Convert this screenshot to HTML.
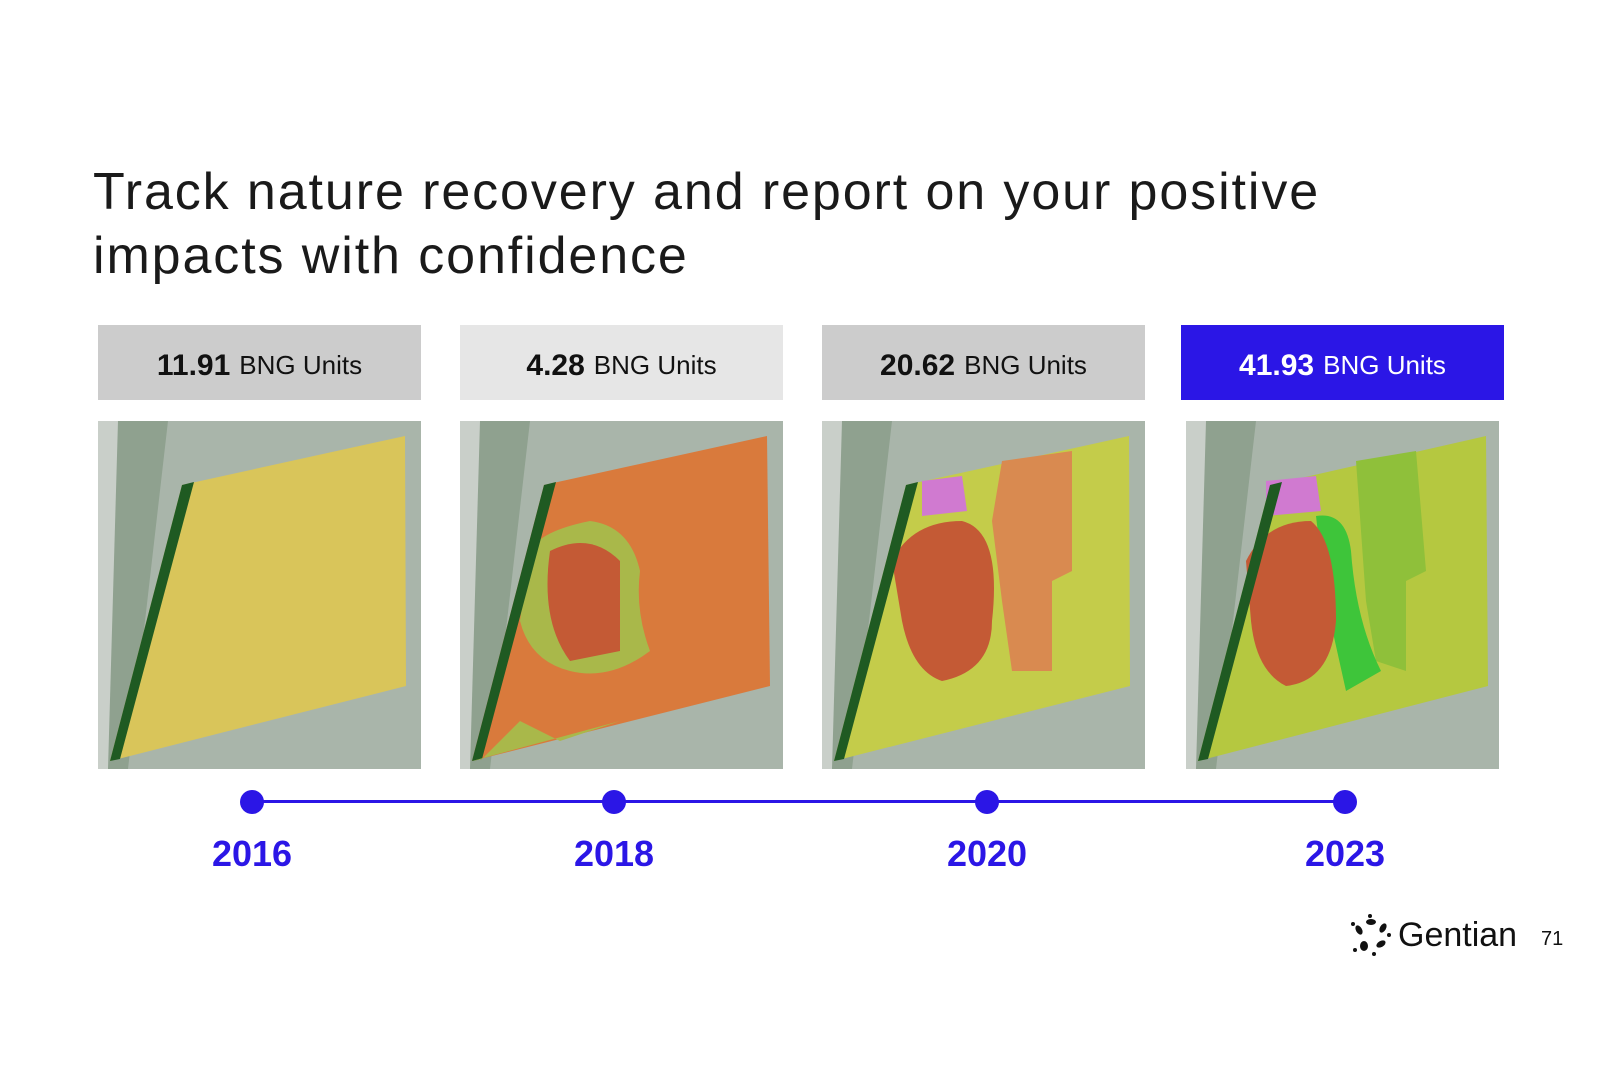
<!DOCTYPE html>
<html><head><meta charset="utf-8">
<style>
body{margin:0;width:1600px;height:1066px;background:#fff;position:relative;overflow:hidden;font-family:"Liberation Sans",sans-serif;}
.t{position:absolute;left:93px;top:160px;font-size:52px;line-height:64px;color:#1a1a1a;letter-spacing:1.9px;}
.box{position:absolute;top:325px;height:75px;width:323px;display:flex;align-items:center;justify-content:center;font-size:26px;color:#111;padding-top:6px;box-sizing:border-box;}
.box b{font-size:30px;margin-right:9px;}
.map{position:absolute;top:421px;width:323px;height:348px;}
.yr{position:absolute;top:833px;width:200px;text-align:center;font-size:36px;font-weight:bold;color:#2b16e6;}
.dot{position:absolute;top:790px;width:24px;height:24px;border-radius:50%;background:#2b16e6;}
</style></head><body>
<div class="t">Track nature recovery and report on your positive<br>impacts with confidence</div>

<div class="box" style="left:98px;background:#cccccc"><b>11.91</b>BNG Units</div>
<div class="box" style="left:460px;background:#e6e6e6"><b>4.28</b>BNG Units</div>
<div class="box" style="left:822px;background:#cccccc"><b>20.62</b>BNG Units</div>
<div class="box" style="left:1181px;background:#2b16e6;color:#fff"><b>41.93</b>BNG Units</div>

<svg class="map" style="left:98px" viewBox="0 0 323 348">
<rect width="323" height="348" fill="#a9b5aa"/><path d="M0 0L50 0L10 348L0 348Z" fill="#c9cfc9"/><path d="M20 0L70 0L30 348L10 348Z" fill="#8fa18f"/>
<polygon points="84,64 307,15 308,265 12,340" fill="#d9c55a"/>
<polygon points="84,64 96,61 22,338 12,340" fill="#1f5a22"/>
</svg>
<svg class="map" style="left:460px" viewBox="0 0 323 348">
<rect width="323" height="348" fill="#a9b5aa"/><path d="M0 0L50 0L10 348L0 348Z" fill="#c9cfc9"/><path d="M20 0L70 0L30 348L10 348Z" fill="#8fa18f"/>
<polygon points="84,64 307,15 310,265 12,340" fill="#d97a3c"/>
<path d="M70 130Q80 110 130 100Q170 105 180 150Q175 190 190 230Q150 260 110 250Q70 240 60 200Z" fill="#a9b84a"/>
<path d="M90 130Q130 110 160 140L160 230L110 240Q80 200 90 130Z" fill="#c45a35"/>
<polygon points="84,64 96,61 22,338 12,340" fill="#1f5a22"/>
<path d="M22 338L60 300L100 320L160 300L12 340Z" fill="#a9b84a"/>
</svg>
<svg class="map" style="left:822px" viewBox="0 0 323 348">
<rect width="323" height="348" fill="#a9b5aa"/><path d="M0 0L50 0L10 348L0 348Z" fill="#c9cfc9"/><path d="M20 0L70 0L30 348L10 348Z" fill="#8fa18f"/>
<polygon points="84,64 307,15 308,265 12,340" fill="#c4cc4a"/>
<path d="M180 40L250 30L250 150L230 160L230 250L190 250L180 180L170 100Z" fill="#d98a50"/>
<path d="M100 60L140 55L145 90L100 95Z" fill="#d07ad0"/>
<path d="M70 140Q90 100 140 100Q180 110 170 200Q170 250 120 260Q90 250 80 200Z" fill="#c45a35"/>
<polygon points="84,64 96,61 22,338 12,340" fill="#1f5a22"/>
</svg>
<svg class="map" style="left:1186px;width:313px" viewBox="0 0 313 348">
<rect width="313" height="348" fill="#a9b5aa"/><path d="M0 0L50 0L10 348L0 348Z" fill="#c9cfc9"/><path d="M20 0L70 0L30 348L10 348Z" fill="#8fa18f"/>
<polygon points="84,64 300,15 302,265 12,340" fill="#b5c840"/>
<path d="M170 40L230 30L240 150L220 160L220 250L190 240L180 180Z" fill="#8fc03a"/>
<path d="M130 95Q160 90 165 130Q170 200 195 250L160 270L140 180Z" fill="#3ec53a"/>
<path d="M80 60L130 55L135 90L80 95Z" fill="#d07ad0"/>
<path d="M60 140Q80 100 125 100Q150 120 150 200Q145 260 100 265Q70 250 65 200Z" fill="#c45a35"/>
<polygon points="84,64 96,61 22,338 12,340" fill="#1f5a22"/>
</svg>

<div style="position:absolute;left:252px;top:800px;width:1093px;height:3px;background:#2b16e6"></div>
<div class="dot" style="left:240px"></div><div class="dot" style="left:602px"></div><div class="dot" style="left:975px"></div><div class="dot" style="left:1333px"></div>
<div class="yr" style="left:152px">2016</div><div class="yr" style="left:514px">2018</div><div class="yr" style="left:887px">2020</div><div class="yr" style="left:1245px">2023</div>

<svg style="position:absolute;left:1350px;top:914px" width="42" height="42" viewBox="0 0 42 42">
<g fill="#111"><ellipse cx="21" cy="8" rx="5" ry="3"/><ellipse cx="33" cy="14" rx="3" ry="5" transform="rotate(30 33 14)"/><ellipse cx="31" cy="30" rx="5" ry="3" transform="rotate(-30 31 30)"/><ellipse cx="14" cy="32" rx="4" ry="5"/><ellipse cx="9" cy="16" rx="3" ry="5" transform="rotate(-30 9 16)"/><circle cx="20" cy="2" r="2"/><circle cx="39" cy="21" r="2"/><circle cx="24" cy="40" r="2"/><circle cx="5" cy="36" r="2"/><circle cx="3" cy="10" r="2"/></g></svg>
<div style="position:absolute;left:1398px;top:916px;font-size:34px;color:#111">Gentian</div>
<div style="position:absolute;left:1541px;top:928px;font-size:20px;color:#111">71</div>
</body></html>
